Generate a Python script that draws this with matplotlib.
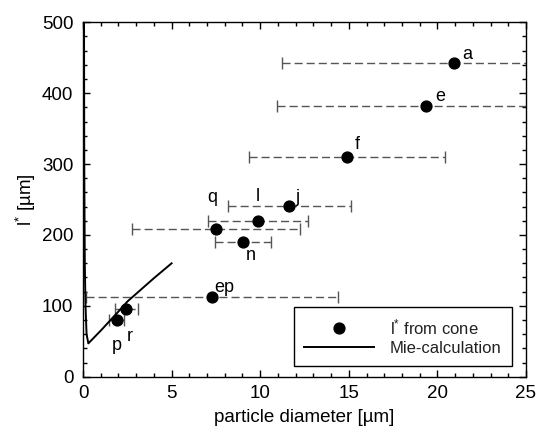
import matplotlib
matplotlib.use('Agg')
import matplotlib.pyplot as plt
from matplotlib.ticker import MultipleLocator

plt.rcParams['font.family'] = ['Liberation Sans', 'DejaVu Sans']
plt.rcParams['mathtext.fontset'] = 'custom'
plt.rcParams['mathtext.rm'] = 'Liberation Sans'
plt.rcParams['mathtext.it'] = 'Liberation Sans:italic'

# measured points (l* from cone)
names = ['a', 'e', 'f', 'j', 'l', 'q', 'n', 'ep', 'p', 'r']
diam = [20.94, 19.35, 14.89, 11.65, 9.87, 7.49, 9.02, 7.29, 1.91, 2.43]
diam_err = [9.7, 8.4, 5.55, 3.45, 2.8, 4.75, 1.57, 7.1, 0.43, 0.65]
lstar = [442, 382, 310, 241, 220, 209, 190, 112, 80, 95]

# Mie calculation curve
mie_d = [0.05, 0.07, 0.1, 0.14, 0.2, 0.3, 1.0, 2.0, 2.5, 3.0, 4.0, 5.0]
mie_l = [600, 300, 160, 100, 60, 47, 65, 92, 106, 117, 139, 160]

# label offsets in pixels (dx, dy)
offs = {'a': (13, 9), 'e': (14, 9), 'f': (10, 12), 'j': (8, 8), 'l': (0, 24),
        'q': (-3, 31), 'n': (8, -13), 'ep': (12, 10), 'p': (0, -25), 'r': (4, -27)}

fig = plt.figure(figsize=(5.37, 4.29), dpi=100)
ax = fig.add_axes([0.1546, 0.1219, 0.8249, 0.8261])

eb = ax.errorbar(diam, lstar, xerr=diam_err, fmt='none', ecolor='#555555',
                 elinewidth=1.0, capsize=4.3, capthick=1.0, zorder=2)
eb[2][0].set_linestyle((0, (5.8, 2.9)))

ax.plot(diam, lstar, 'o', color='black', markersize=7.8, zorder=3,
        label='l$^{*}$ from cone')
ax.plot(mie_d, mie_l, '-', color='black', lw=1.4, zorder=3,
        label='Mie-calculation')

for nm, x, y in zip(names, diam, lstar):
    dx, dy = offs[nm]
    ax.annotate(nm, (x, y), xytext=(dx, dy), textcoords='offset pixels',
                ha='center', va='center', fontsize=13)

ax.set_xlim(0, 25)
ax.set_ylim(0, 500)
ax.xaxis.set_major_locator(MultipleLocator(5))
ax.xaxis.set_minor_locator(MultipleLocator(1))
ax.yaxis.set_major_locator(MultipleLocator(100))
ax.yaxis.set_minor_locator(MultipleLocator(20))
ax.tick_params(which='both', direction='in', top=True, right=True, width=1)
ax.tick_params(which='major', length=5, labelsize=13.5)
ax.tick_params(which='minor', length=3)
ax.tick_params(axis='x', pad=6)
ax.tick_params(axis='y', pad=7)
for s in ax.spines.values():
    s.set_linewidth(1.0)

ax.set_xlabel('particle diameter [µm]', fontsize=13.5, labelpad=5)
ax.set_ylabel('l$^{*}$ [µm]', fontsize=13.5, labelpad=3)

leg = ax.legend(loc='lower right', bbox_to_anchor=(0.968, 0.03), borderaxespad=0,
                fontsize=12, frameon=True, fancybox=False, framealpha=1,
                edgecolor='black', handlelength=4.2, handletextpad=0.95,
                borderpad=0.6, labelspacing=0.25)
leg.get_frame().set_linewidth(1.0)
for t in leg.get_texts():
    t.set_color('#222222')

fig.savefig('out.png', dpi=100)
